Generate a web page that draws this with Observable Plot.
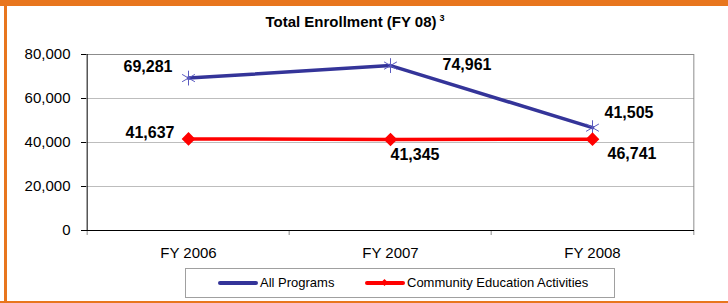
<!DOCTYPE html>
<html>
<head>
<meta charset="utf-8">
<script src="https://cdn.jsdelivr.net/npm/d3@7"></script>
<script src="https://cdn.jsdelivr.net/npm/@observablehq/plot@0.6"></script>
<style>
  html, body { margin: 0; padding: 0; background: #fff; }
  body { font-family: Arial, "Liberation Sans", sans-serif; }
  #wrap { position: relative; width: 728px; height: 303px; overflow: hidden; background: #fff; }
  #chart { position: absolute; left: 0; top: 0; }
  .bar { position: absolute; background: #e8761e; }
  #title { position: absolute; left: 0; width: 710px; top: 13px; text-align: center;
           font-size: 15px; font-weight: bold; color: #000; }
  #title sup { font-size: 9px; vertical-align: 6px; margin-left: 3px; }
  #legend { position: absolute; left: 185px; top: 268px; width: 430px; height: 30px;
            border: 1px solid #a0a0a0; box-sizing: border-box; font-size: 13px; color: #000; }
  .item { position: absolute; top: 6px; display: flex; align-items: center; }
  .swatch { position: relative; width: 40px; height: 14px; margin-right: 2px; }
  .swatch .ln { position: absolute; left: 0; right: 0; top: 5px; height: 4px; border-radius: 2px; }
  .swatch .mk { position: absolute; left: 17px; top: 4px; width: 5px; height: 5px; transform: rotate(45deg); }
</style>
</head>
<body>
<div id="wrap">
  <div id="chart"></div>
  <div id="title">Total Enrollment (FY 08)<sup>3</sup></div>
  <div id="legend"></div>
  <div class="bar" style="left:0;top:0;width:728px;height:6px"></div>
  <div class="bar" style="left:4px;top:0;width:3px;height:303px"></div>
  <div class="bar" style="left:0;top:301px;width:728px;height:2px"></div>
</div>
<script>
const categories = ["FY 2006", "FY 2007", "FY 2008"];
const seriesNames = ["All Programs", "Community Education Activities"];
const allPrograms = [69281, 74961, 46741];
const communityEd = [41637, 41345, 41505];
const allLabels = ["69,281", "74,961", "41,505"];
const ceaLabels = ["41,637", "41,345", "46,741"];
const yTicks = [0, 20000, 40000, 60000, 80000];

const blue = "#343499";
const red = "#ff0000";

const allData = categories.map((c, i) => ({cat: c, v: allPrograms[i], label: allLabels[i]}));
const ceaData = categories.map((c, i) => ({cat: c, v: communityEd[i], label: ceaLabels[i]}));

const W = 728, H = 303, mL = 86, mR = 34, mT = 54, mB = 73;
const bw = (W - mL - mR) / categories.length;
const font = "Arial, 'Liberation Sans', sans-serif";
const lbl = {fontSize: 16, fontWeight: "bold", fill: "#000"};

const plot = Plot.plot({
  width: W, height: H,
  marginLeft: mL, marginRight: mR, marginTop: mT, marginBottom: mB,
  style: {fontFamily: font, fontSize: "15px", background: "transparent", color: "#000", overflow: "visible"},
  x: {type: "band", domain: categories, padding: 0},
  y: {domain: [0, 80000]},
  marks: [
    Plot.ruleY(yTicks.filter(d => d > 0), {stroke: "#bdbdbd", strokeWidth: 1}),
    Plot.ruleY([80000], {stroke: "#8c8c8c"}),
    Plot.ruleX([categories[categories.length - 1]], {dx: bw / 2, stroke: "#8c8c8c", insetBottom: -5}),
    Plot.ruleX(categories, {dx: -bw / 2, stroke: "#8c8c8c", insetTop: H - mT - mB, insetBottom: -5}),
    Plot.axisY({ticks: yTicks, tickFormat: d3.format(","), tickSize: 5, tickPadding: 11,
      fontSize: 15, stroke: "#000", fill: "#000", label: null}),
    Plot.axisX({tickSize: 0, tickPadding: 17, fontSize: 15, fill: "#000", label: null}),
    Plot.ruleX([categories[0]], {dx: -bw / 2, stroke: "#000"}),
    Plot.ruleY([0], {stroke: "#000"}),
    Plot.line(allData, {x: "cat", y: "v", stroke: blue, strokeWidth: 3.5}),
    Plot.line(ceaData, {x: "cat", y: "v", stroke: red, strokeWidth: 3.5}),
    Plot.dot(allData, {x: "cat", y: "v", symbol: "asterisk", r: 7, stroke: "#5a5ac0", strokeWidth: 1}),
    Plot.dot(ceaData, {x: "cat", y: "v", symbol: "square", rotate: 45, r: 4.6, fill: red, stroke: red}),
    // data labels
    Plot.text(allData.slice(0, 1), {x: "cat", y: "v", text: "label", textAnchor: "end", dx: -16, dy: -11, ...lbl}),
    Plot.text(allData.slice(1, 2), {x: "cat", y: "v", text: "label", textAnchor: "start", dx: 52, dy: -1, ...lbl}),
    Plot.text(allData.slice(2, 3), {x: "cat", y: "v", text: "label", textAnchor: "start", dx: 12, dy: -15, ...lbl}),
    Plot.text(ceaData.slice(0, 1), {x: "cat", y: "v", text: "label", textAnchor: "end", dx: -14, dy: -6, ...lbl}),
    Plot.text(ceaData.slice(1, 2), {x: "cat", y: "v", text: "label", textAnchor: "start", dx: 0, dy: 15, ...lbl}),
    Plot.text(ceaData.slice(2, 3), {x: "cat", y: "v", text: "label", textAnchor: "start", dx: 15, dy: 15, ...lbl})
  ]
});
document.getElementById("chart").appendChild(plot);

// legend
const legend = document.getElementById("legend");
const lefts = [32, 179];
const colors = [blue, red];
seriesNames.forEach((name, i) => {
  const item = document.createElement("div");
  item.className = "item";
  item.style.left = lefts[i] + "px";
  const sw = document.createElement("div");
  sw.className = "swatch";
  const ln = document.createElement("div");
  ln.className = "ln";
  ln.style.background = colors[i];
  sw.appendChild(ln);
  if (i === 1) {
    const mk = document.createElement("div");
    mk.className = "mk";
    mk.style.background = colors[i];
    sw.appendChild(mk);
  }
  const lab = document.createElement("span");
  lab.textContent = name;
  item.appendChild(sw);
  item.appendChild(lab);
  legend.appendChild(item);
});
</script>
</body>
</html>
